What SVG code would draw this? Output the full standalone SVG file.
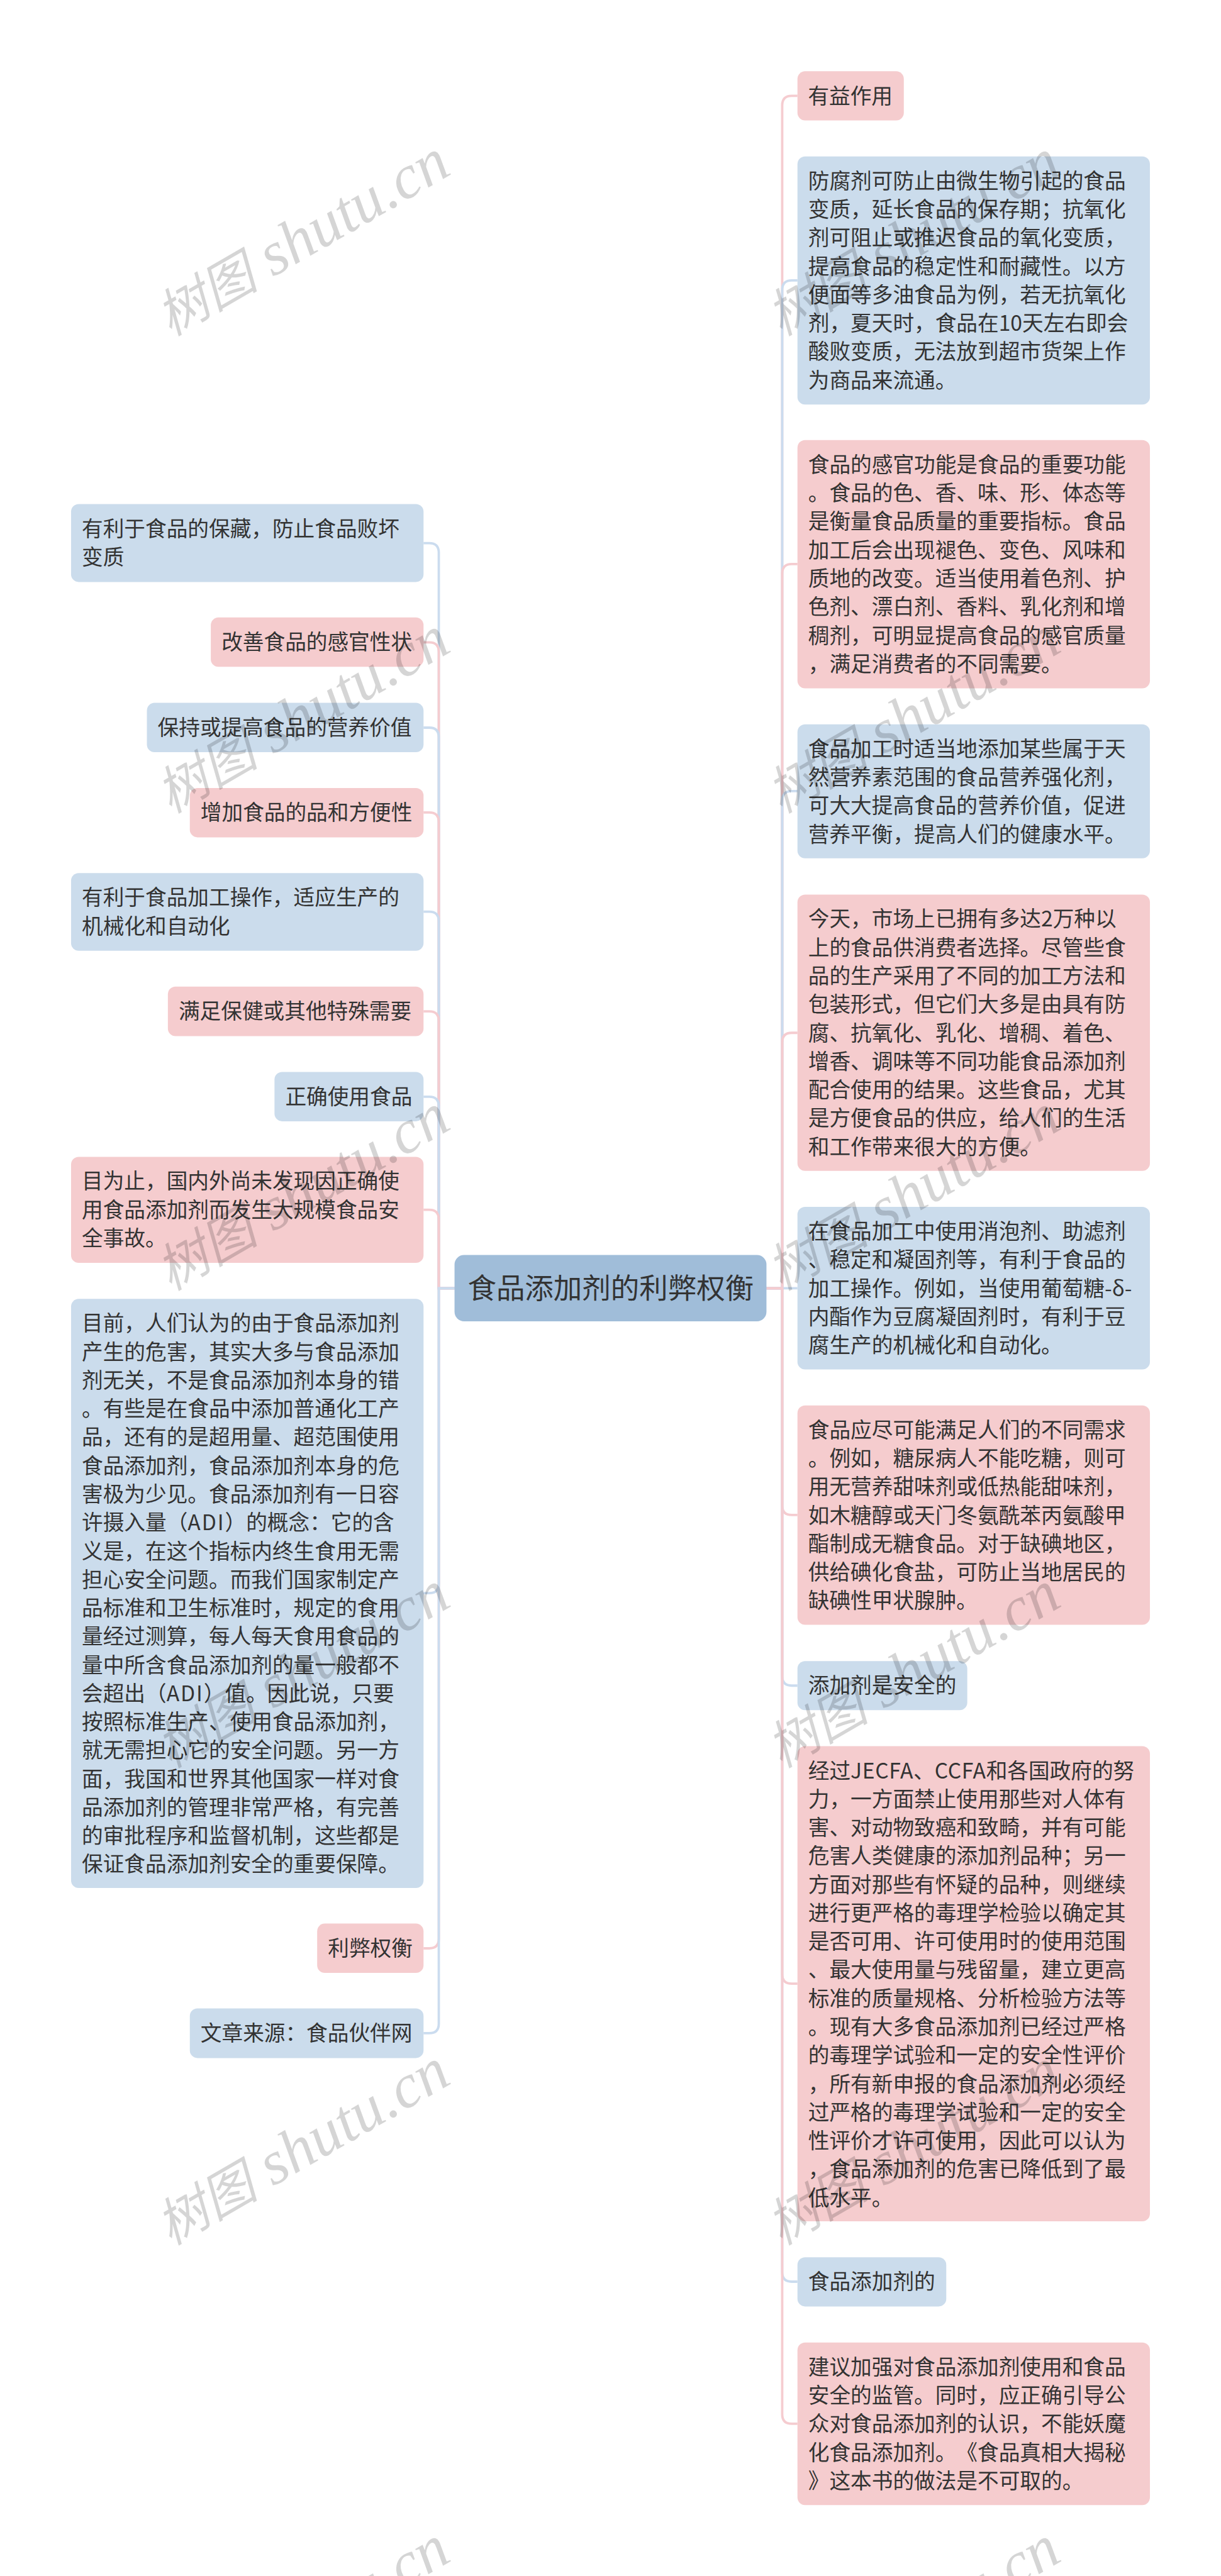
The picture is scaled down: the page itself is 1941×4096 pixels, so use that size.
<svg xmlns="http://www.w3.org/2000/svg" width="1941" height="4096" viewBox="0 0 1941 4096">
<style>
text{font-family:"Noto Sans CJK SC","Liberation Sans",sans-serif;fill:#333;font-size:44.4px;text-spacing-trim:space-all;font-feature-settings:"chws" 0}
.b{fill:#cbdcec}.p{fill:#f5ccce}.r{fill:#a0bdd9}
text.root{font-size:60px}
.cb,.cp{fill:none;stroke-width:5}
.cb{stroke:#cbdcef}.cp{stroke:#f5ccd0}
text.wm{font-family:"Liberation Serif","Noto Sans CJK SC",serif;font-style:italic;fill:#000;fill-opacity:.165;font-size:130px}
.wc{font-family:"Noto Sans CJK SC",sans-serif;font-size:108px}
.l1{letter-spacing:.8px}.l2{letter-spacing:2.5px}
</style>
<rect width="1941" height="4096" fill="#fff"/>
<g transform="scale(0.7582)">
<g id="connectors">
<path class="cp" d="M1607 2701.5H1640V221Q1640 201 1660 201H1672"/>
<path class="cb" d="M1607 2701.5H1640V608Q1640 588 1660 588H1672"/>
<path class="cp" d="M1607 2701.5H1640V1203Q1640 1183 1660 1183H1672"/>
<path class="cb" d="M1607 2701.5H1640V1679Q1640 1659 1660 1659H1672"/>
<path class="cp" d="M1607 2701.5H1640V2186Q1640 2166 1660 2166H1672"/>
<path class="cb" d="M1607 2701.5H1672"/>
<path class="cp" d="M1607 2701.5H1640V3157Q1640 3177 1660 3177H1672"/>
<path class="cb" d="M1607 2701.5H1640V3515Q1640 3535 1660 3535H1672"/>
<path class="cp" d="M1607 2701.5H1640V4140Q1640 4160 1660 4160H1672"/>
<path class="cb" d="M1607 2701.5H1640V4765Q1640 4785 1660 4785H1672"/>
<path class="cp" d="M1607 2701.5H1640V5063Q1640 5083 1660 5083H1672"/>
<path class="cb" d="M953 2701.5H920V1159Q920 1139 900 1139H888"/>
<path class="cp" d="M953 2701.5H920V1367Q920 1347 900 1347H888"/>
<path class="cb" d="M953 2701.5H920V1546Q920 1526 900 1526H888"/>
<path class="cp" d="M953 2701.5H920V1724Q920 1704 900 1704H888"/>
<path class="cb" d="M953 2701.5H920V1932Q920 1912 900 1912H888"/>
<path class="cp" d="M953 2701.5H920V2141Q920 2121 900 2121H888"/>
<path class="cb" d="M953 2701.5H920V2320Q920 2300 900 2300H888"/>
<path class="cp" d="M953 2701.5H920V2557Q920 2537 900 2537H888"/>
<path class="cb" d="M953 2701.5H920V3321Q920 3341 900 3341H888"/>
<path class="cp" d="M953 2701.5H920V4066Q920 4086 900 4086H888"/>
<path class="cb" d="M953 2701.5H920V4244Q920 4264 900 4264H888"/>
</g>
<g id="root"><rect class="r" x="953" y="2632" width="654" height="139" rx="20"/><text class="root" x="980.5" y="2723">食品添加剂的利弊权衡</text></g>
<g id="r1"><rect class="p" x="1672" y="149.5" width="223" height="103" rx="16"/><text x="1694" y="217">有益作用</text></g>
<g id="r2"><rect class="b" x="1672" y="328" width="739" height="520.5" rx="16"/><text y="395.4"><tspan x="1694.5">防腐剂可防止由微生物引起的食品</tspan><tspan x="1694.5" dy="59.7">变质，延长食品的保存期；抗氧化</tspan><tspan x="1694.5" dy="59.7">剂可阻止或推迟食品的氧化变质，</tspan><tspan x="1694.5" dy="59.7">提高食品的稳定性和耐藏性。以方</tspan><tspan x="1694.5" dy="59.7">便面等多油食品为例，若无抗氧化</tspan><tspan x="1694.5" dy="59.7">剂，夏天时，食品在10天左右即会</tspan><tspan x="1694.5" dy="59.7">酸败变质，无法放到超市货架上作</tspan><tspan x="1694.5" dy="59.7">为商品来流通。</tspan></text></g>
<g id="r3"><rect class="p" x="1672" y="923" width="739" height="520.5" rx="16"/><text y="990.4"><tspan x="1694.5">食品的感官功能是食品的重要功能</tspan><tspan x="1694.5" dy="59.7">。食品的色、香、味、形、体态等</tspan><tspan x="1694.5" dy="59.7">是衡量食品质量的重要指标。食品</tspan><tspan x="1694.5" dy="59.7">加工后会出现褪色、变色、风味和</tspan><tspan x="1694.5" dy="59.7">质地的改变。适当使用着色剂、护</tspan><tspan x="1694.5" dy="59.7">色剂、漂白剂、香料、乳化剂和增</tspan><tspan x="1694.5" dy="59.7">稠剂，可明显提高食品的感官质量</tspan><tspan x="1694.5" dy="59.7">，满足消费者的不同需要。</tspan></text></g>
<g id="r4"><rect class="b" x="1672" y="1519" width="739" height="281" rx="16"/><text y="1586.4"><tspan x="1694.5">食品加工时适当地添加某些属于天</tspan><tspan x="1694.5" dy="59.7">然营养素范围的食品营养强化剂，</tspan><tspan x="1694.5" dy="59.7">可大大提高食品的营养价值，促进</tspan><tspan x="1694.5" dy="59.7">营养平衡，提高人们的健康水平。</tspan></text></g>
<g id="r5"><rect class="p" x="1672" y="1876" width="739" height="579.5" rx="16"/><text y="1943.4"><tspan x="1694.5">今天，市场上已拥有多达2万种以</tspan><tspan x="1694.5" dy="59.7">上的食品供消费者选择。尽管些食</tspan><tspan x="1694.5" dy="59.7">品的生产采用了不同的加工方法和</tspan><tspan x="1694.5" dy="59.7">包装形式，但它们大多是由具有防</tspan><tspan x="1694.5" dy="59.7">腐、抗氧化、乳化、增稠、着色、</tspan><tspan x="1694.5" dy="59.7">增香、调味等不同功能食品添加剂</tspan><tspan x="1694.5" dy="59.7">配合使用的结果。这些食品，尤其</tspan><tspan x="1694.5" dy="59.7">是方便食品的供应，给人们的生活</tspan><tspan x="1694.5" dy="59.7">和工作带来很大的方便。</tspan></text></g>
<g id="r6"><rect class="b" x="1672" y="2531" width="739" height="341" rx="16"/><text y="2598.4"><tspan x="1694.5">在食品加工中使用消泡剂、助滤剂</tspan><tspan x="1694.5" dy="59.7">、稳定和凝固剂等，有利于食品的</tspan><tspan x="1694.5" dy="59.7">加工操作。例如，当使用葡萄糖-δ-</tspan><tspan x="1694.5" dy="59.7">内酯作为豆腐凝固剂时，有利于豆</tspan><tspan x="1694.5" dy="59.7">腐生产的机械化和自动化。</tspan></text></g>
<g id="r7"><rect class="p" x="1672" y="2947.5" width="739" height="460" rx="16"/><text y="3014.9"><tspan x="1694.5">食品应尽可能满足人们的不同需求</tspan><tspan x="1694.5" dy="59.7">。例如，糖尿病人不能吃糖，则可</tspan><tspan x="1694.5" dy="59.7">用无营养甜味剂或低热能甜味剂，</tspan><tspan x="1694.5" dy="59.7">如木糖醇或天门冬氨酰苯丙氨酸甲</tspan><tspan x="1694.5" dy="59.7">酯制成无糖食品。对于缺碘地区，</tspan><tspan x="1694.5" dy="59.7">供给碘化食盐，可防止当地居民的</tspan><tspan x="1694.5" dy="59.7">缺碘性甲状腺肿。</tspan></text></g>
<g id="r8"><rect class="b" x="1672" y="3483.5" width="356" height="103" rx="16"/><text x="1694.5" y="3551">添加剂是安全的</text></g>
<g id="r9"><rect class="p" x="1672" y="3662" width="739" height="996.5" rx="16"/><text y="3729.4"><tspan x="1694.5">经过<tspan class="l1">JECFA</tspan>、<tspan class="l1">CCFA</tspan>和各国政府的努</tspan><tspan x="1694.5" dy="59.7">力，一方面禁止使用那些对人体有</tspan><tspan x="1694.5" dy="59.7">害、对动物致癌和致畸，并有可能</tspan><tspan x="1694.5" dy="59.7">危害人类健康的添加剂品种；另一</tspan><tspan x="1694.5" dy="59.7">方面对那些有怀疑的品种，则继续</tspan><tspan x="1694.5" dy="59.7">进行更严格的毒理学检验以确定其</tspan><tspan x="1694.5" dy="59.7">是否可用、许可使用时的使用范围</tspan><tspan x="1694.5" dy="59.7">、最大使用量与残留量，建立更高</tspan><tspan x="1694.5" dy="59.7">标准的质量规格、分析检验方法等</tspan><tspan x="1694.5" dy="59.7">。现有大多食品添加剂已经过严格</tspan><tspan x="1694.5" dy="59.7">的毒理学试验和一定的安全性评价</tspan><tspan x="1694.5" dy="59.7">，所有新申报的食品添加剂必须经</tspan><tspan x="1694.5" dy="59.7">过严格的毒理学试验和一定的安全</tspan><tspan x="1694.5" dy="59.7">性评价才许可使用，因此可以认为</tspan><tspan x="1694.5" dy="59.7">，食品添加剂的危害已降低到了最</tspan><tspan x="1694.5" dy="59.7">低水平。</tspan></text></g>
<g id="r10"><rect class="b" x="1672" y="4734" width="312" height="103" rx="16"/><text x="1694.5" y="4801.5">食品添加剂的</text></g>
<g id="r11"><rect class="p" x="1672" y="4912.5" width="739" height="341" rx="16"/><text y="4979.9"><tspan x="1694.5">建议加强对食品添加剂使用和食品</tspan><tspan x="1694.5" dy="59.7">安全的监管。同时，应正确引导公</tspan><tspan x="1694.5" dy="59.7">众对食品添加剂的认识，不能妖魔</tspan><tspan x="1694.5" dy="59.7">化食品添加剂。《食品真相大揭秘</tspan><tspan x="1694.5" dy="59.7">》这本书的做法是不可取的。</tspan></text></g>
<g id="l1"><rect class="b" x="149" y="1057" width="739" height="163.5" rx="16"/><text y="1124.4"><tspan x="171.5">有利于食品的保藏，防止食品败坏</tspan><tspan x="171.5" dy="59.7">变质</tspan></text></g>
<g id="l2"><rect class="p" x="442" y="1295" width="446" height="103.5" rx="16"/><text x="464.5" y="1362.5">改善食品的感官性状</text></g>
<g id="l3"><rect class="b" x="308" y="1474" width="580" height="103.5" rx="16"/><text x="330.5" y="1541.5">保持或提高食品的营养价值</text></g>
<g id="l4"><rect class="p" x="398" y="1652.5" width="490" height="103.5" rx="16"/><text x="420.5" y="1720">增加食品的品和方便性</text></g>
<g id="l5"><rect class="b" x="149" y="1831" width="739" height="163" rx="16"/><text y="1898.4"><tspan x="171.5">有利于食品加工操作，适应生产的</tspan><tspan x="171.5" dy="59.7">机械化和自动化</tspan></text></g>
<g id="l6"><rect class="p" x="352" y="2069" width="536" height="104" rx="16"/><text x="374.5" y="2136.5">满足保健或其他特殊需要</text></g>
<g id="l7"><rect class="b" x="575.5" y="2248" width="312.5" height="103.5" rx="16"/><text x="598" y="2315.5">正确使用食品</text></g>
<g id="l8"><rect class="p" x="149" y="2426" width="739" height="222.5" rx="16"/><text y="2493.4"><tspan x="171.5">目为止，国内外尚未发现因正确使</tspan><tspan x="171.5" dy="59.7">用食品添加剂而发生大规模食品安</tspan><tspan x="171.5" dy="59.7">全事故。</tspan></text></g>
<g id="l9"><rect class="b" x="149" y="2724" width="739" height="1235.5" rx="16"/><text y="2791.4"><tspan x="171.5">目前，人们认为的由于食品添加剂</tspan><tspan x="171.5" dy="59.7">产生的危害，其实大多与食品添加</tspan><tspan x="171.5" dy="59.7">剂无关，不是食品添加剂本身的错</tspan><tspan x="171.5" dy="59.7">。有些是在食品中添加普通化工产</tspan><tspan x="171.5" dy="59.7">品，还有的是超用量、超范围使用</tspan><tspan x="171.5" dy="59.7">食品添加剂，食品添加剂本身的危</tspan><tspan x="171.5" dy="59.7">害极为少见。食品添加剂有一日容</tspan><tspan x="171.5" dy="59.7">许摄入量（<tspan class="l2">ADI</tspan>）的概念：它的含</tspan><tspan x="171.5" dy="59.7">义是，在这个指标内终生食用无需</tspan><tspan x="171.5" dy="59.7">担心安全问题。而我们国家制定产</tspan><tspan x="171.5" dy="59.7">品标准和卫生标准时，规定的食用</tspan><tspan x="171.5" dy="59.7">量经过测算，每人每天食用食品的</tspan><tspan x="171.5" dy="59.7">量中所含食品添加剂的量一般都不</tspan><tspan x="171.5" dy="59.7">会超出（<tspan class="l2">ADI</tspan>）值。因此说，只要</tspan><tspan x="171.5" dy="59.7">按照标准生产、使用食品添加剂，</tspan><tspan x="171.5" dy="59.7">就无需担心它的安全问题。另一方</tspan><tspan x="171.5" dy="59.7">面，我国和世界其他国家一样对食</tspan><tspan x="171.5" dy="59.7">品添加剂的管理非常严格，有完善</tspan><tspan x="171.5" dy="59.7">的审批程序和监督机制，这些都是</tspan><tspan x="171.5" dy="59.7">保证食品添加剂安全的重要保障。</tspan></text></g>
<g id="l10"><rect class="p" x="665" y="4034" width="223" height="103.5" rx="16"/><text x="687.5" y="4101.5">利弊权衡</text></g>
<g id="l11"><rect class="b" x="398" y="4212" width="490" height="104" rx="16"/><text x="420.5" y="4279.5">文章来源：食品伙伴网</text></g>
<g id="watermarks">
<text class="wm" transform="translate(357 706) rotate(-30)"><tspan class="wc">树图</tspan> shutu.cn</text>
<text class="wm" transform="translate(357 1707) rotate(-30)"><tspan class="wc">树图</tspan> shutu.cn</text>
<text class="wm" transform="translate(357 2708) rotate(-30)"><tspan class="wc">树图</tspan> shutu.cn</text>
<text class="wm" transform="translate(357 3709) rotate(-30)"><tspan class="wc">树图</tspan> shutu.cn</text>
<text class="wm" transform="translate(357 4710) rotate(-30)"><tspan class="wc">树图</tspan> shutu.cn</text>
<text class="wm" transform="translate(357 5711) rotate(-30)"><tspan class="wc">树图</tspan> shutu.cn</text>
<text class="wm" transform="translate(1637 706) rotate(-30)"><tspan class="wc">树图</tspan> shutu.cn</text>
<text class="wm" transform="translate(1637 1707) rotate(-30)"><tspan class="wc">树图</tspan> shutu.cn</text>
<text class="wm" transform="translate(1637 2708) rotate(-30)"><tspan class="wc">树图</tspan> shutu.cn</text>
<text class="wm" transform="translate(1637 3709) rotate(-30)"><tspan class="wc">树图</tspan> shutu.cn</text>
<text class="wm" transform="translate(1637 4710) rotate(-30)"><tspan class="wc">树图</tspan> shutu.cn</text>
<text class="wm" transform="translate(1637 5711) rotate(-30)"><tspan class="wc">树图</tspan> shutu.cn</text>
</g>
</g>
</svg>
